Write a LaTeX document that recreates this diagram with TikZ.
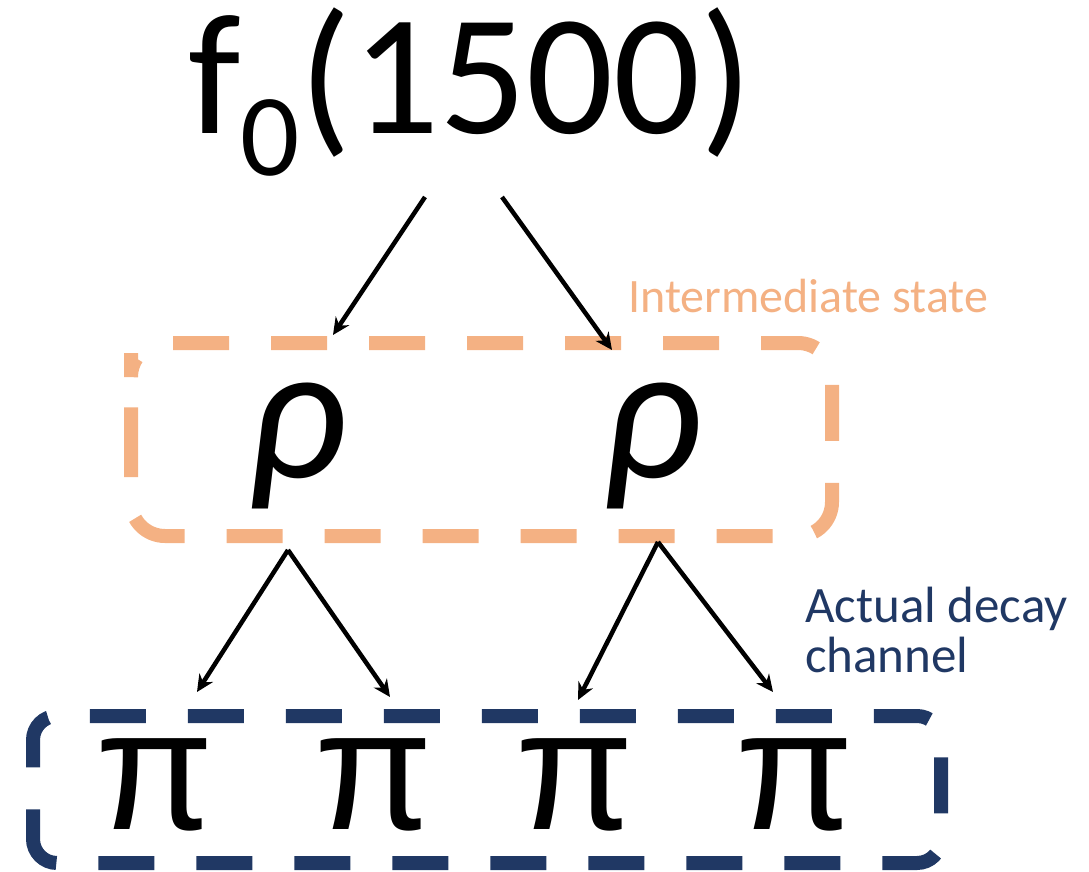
\documentclass[tikz,border=0pt]{standalone}
\usepackage{fontspec}
\setmainfont{Carlito}
\newfontfamily\pifont{Liberation Sans}
\usetikzlibrary{arrows.meta}
\definecolor{orangebox}{HTML}{F4B183}
\definecolor{bluebox}{HTML}{203864}
\tikzset{
  big/.style={inner sep=0pt, font=\fontsize{172}{172}\selectfont},
  greek/.style={inner sep=0pt, anchor=base, font=\fontsize{195}{195}\selectfont\itshape},
  pinode/.style={inner sep=0pt, anchor=base, font=\pifont\fontsize{172}{172}\selectfont},
  arr/.style={line width=4.5pt, -{Stealth[length=17pt,width=16pt]}},
  obox/.style={draw=orangebox, line width=14pt, rounded corners=34pt, dash pattern=on 56pt off 42pt},
  bbox/.style={draw=bluebox, line width=14pt, rounded corners=24pt, dash pattern=on 56pt off 42pt},
  olabel/.style={inner sep=0pt, anchor=base west, text=orangebox, font=\fontsize{48}{48}\selectfont},
  blabel/.style={inner sep=0pt, anchor=base west, text=bluebox, font=\fontsize{51}{51}\selectfont},
}
\begin{document}
\begin{tikzpicture}[x=1pt,y=-1pt]
\useasboundingbox (0,0) rectangle (1089,872);
\node[big, anchor=base west] (f0) at (188,133) {f\raisebox{-43pt}{\fontsize{117}{117}\selectfont 0}(1500)};
\node[greek] (rho1) at (297,477) {ρ};
\node[greek] (rho2) at (652,477) {ρ};
\node[pinode] (pi1) at (155,829) {π};
\node[pinode] (pi2) at (374,829) {π};
\node[pinode] (pi3) at (575,829) {π};
\node[pinode] (pi4) at (795,829) {π};
\draw[obox] (131,387) -- (131,536) -- (832,536) -- (832,343) -- (131,343) -- cycle;
\draw[bbox] (33,796) -- (33,863) -- (941,863) -- (941,716) -- (33,716) -- cycle;
\node[olabel] (lab1) at (628,312) {Intermediate state};
\node[blabel] (lab2) at (805,622) {Actual decay};
\node[blabel] (lab3) at (805,672) {channel};
\coordinate (a1s) at (425,197); \coordinate (a1e) at (333,335);
\coordinate (a2s) at (502,197); \coordinate (a2e) at (612,350);
\coordinate (b1s) at (288,550); \coordinate (b1e) at (197,692);
\coordinate (b2s) at (288,550); \coordinate (b2e) at (390,697);
\coordinate (c1s) at (658,542); \coordinate (c1e) at (578,700);
\coordinate (c2s) at (658,542); \coordinate (c2e) at (773,692);
\draw[arr] (a1s) -- (a1e);
\draw[arr] (a2s) -- (a2e);
\draw[arr] (b1s) -- (b1e);
\draw[arr] (b2s) -- (b2e);
\draw[arr] (c1s) -- (c1e);
\draw[arr] (c2s) -- (c2e);
\end{tikzpicture}
\end{document}
